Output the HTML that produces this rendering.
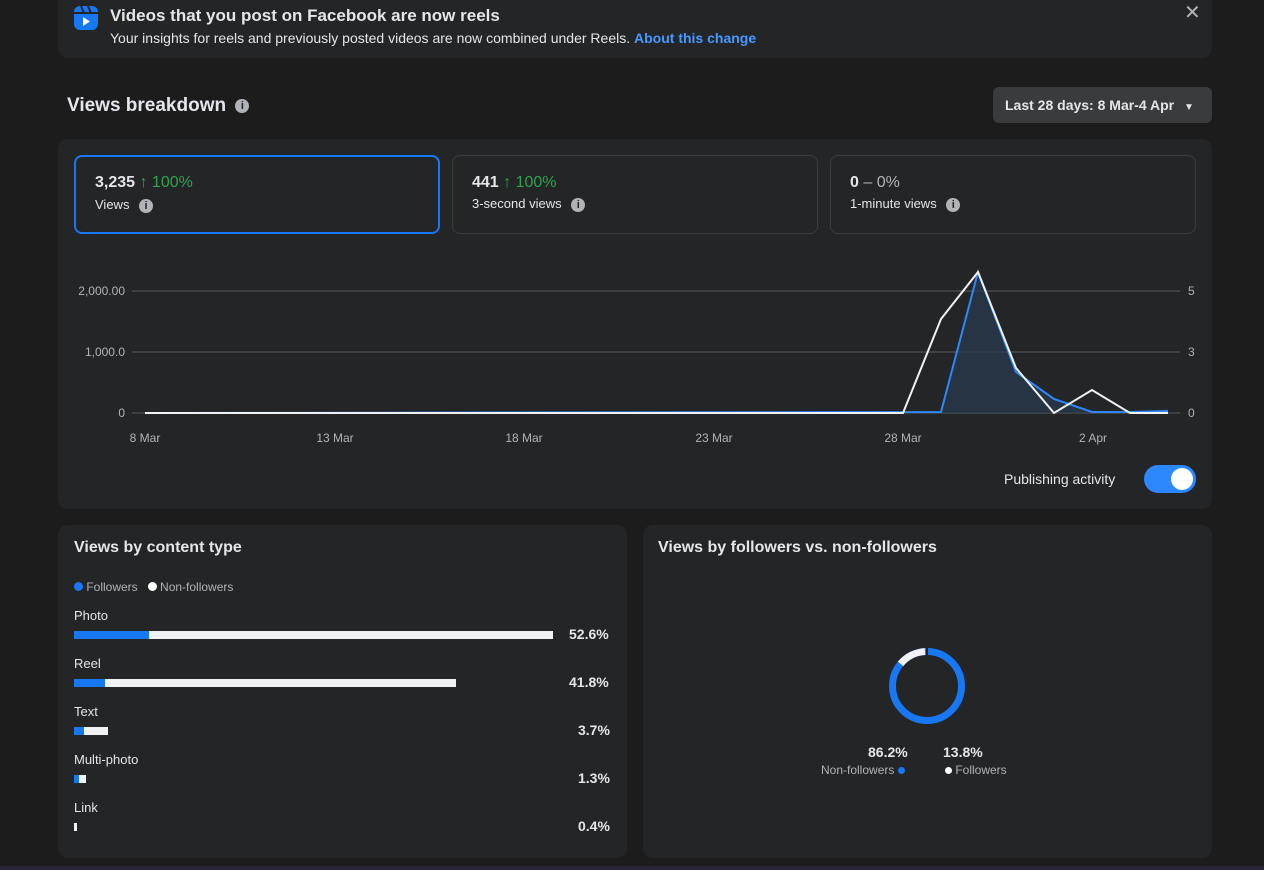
<!DOCTYPE html>
<html><head><style>
*{margin:0;padding:0;box-sizing:border-box}
body{width:1264px;height:870px;background:#1c1c1d;font-family:"Liberation Sans",sans-serif;color:#e4e6eb;position:relative;overflow:hidden}
.card{position:absolute;background:#242526;border-radius:10px}
.abs{position:absolute;white-space:nowrap}
.info{display:inline-block;width:14px;height:14px;border-radius:50%;background:#b0b3b8;color:#242526;font-size:11px;font-weight:bold;text-align:center;line-height:14px;vertical-align:middle}
.met{position:absolute;top:155px;height:79px;border:1px solid #3a3b3c;border-radius:8px}
.g{color:#31a24c}
.bar{position:absolute;height:8px}
</style></head><body>
<div class="card" style="left:58px;top:-10px;width:1154px;height:68px"></div>
<svg class="abs" style="left:73px;top:5px" width="26" height="26"><rect x="1" y="1" width="24" height="24" rx="6" fill="#1877f2"/><path d="M1 8h24" stroke="#242526" stroke-width="2"/><path d="M8 1l3 7M15 1l3 7" stroke="#242526" stroke-width="2"/><path d="M10 12v9l7-4.5z" fill="#fff"/></svg>
<div class="abs" style="left:110px;top:6px;font-size:17px;font-weight:bold">Videos that you post on Facebook are now reels</div>
<div class="abs" style="left:110px;top:30px;font-size:14px">Your insights for reels and previously posted videos are now combined under Reels. <span style="color:#4599ff;font-weight:bold">About this change</span></div>
<div class="abs" style="left:1184px;top:0px;font-size:20px;color:#b0b3b8">✕</div>

<div class="abs" style="left:67px;top:95px;font-size:19px;font-weight:bold">Views breakdown <span class="info" style="margin-left:4px">i</span></div>
<div class="abs" style="left:993px;top:87px;width:219px;height:36px;background:#3a3b3c;border-radius:6px;font-size:14px;font-weight:bold;line-height:36px;padding-left:12px">Last 28 days: 8 Mar-4 Apr <span style="font-size:10px;margin-left:6px">▼</span></div>

<div class="card" style="left:58px;top:139px;width:1154px;height:370px"></div>
<div class="met" style="left:74px;width:366px;border:2px solid #1877f2"></div>
<div class="met" style="left:452px;width:366px"></div>
<div class="met" style="left:830px;width:366px"></div>
<div class="abs" style="left:95px;top:174px;font-size:16px;font-weight:bold">3,235 <span class="g" style="font-weight:normal">↑ 100%</span></div>
<div class="abs" style="left:95px;top:197px;font-size:13px">Views <span class="info" style="margin-left:6px">i</span></div>
<div class="abs" style="left:472px;top:174px;font-size:16px;font-weight:bold">441 <span class="g" style="font-weight:normal">↑ 100%</span></div>
<div class="abs" style="left:472px;top:196px;font-size:13px">3-second views <span class="info" style="margin-left:6px">i</span></div>
<div class="abs" style="left:850px;top:174px;font-size:16px;font-weight:bold">0 <span style="font-weight:normal;color:#b0b3b8">– 0%</span></div>
<div class="abs" style="left:850px;top:196px;font-size:13px">1-minute views <span class="info" style="margin-left:6px">i</span></div>

<svg class="abs" style="left:0;top:0" width="1264" height="520" font-family="Liberation Sans" font-size="12" fill="#b0b3b8">
<g stroke="#5a5b5e" stroke-width="1"><line x1="132" y1="291" x2="1180" y2="291"/><line x1="132" y1="352" x2="1180" y2="352"/><line x1="132" y1="413" x2="1180" y2="413"/></g>
<text x="125" y="295" text-anchor="end">2,000.00</text><text x="125" y="356" text-anchor="end">1,000.0</text><text x="125" y="417" text-anchor="end">0</text>
<text x="1188" y="295">5</text><text x="1188" y="356">3</text><text x="1188" y="417">0</text>
<g text-anchor="middle"><text x="145" y="442">8 Mar</text><text x="335" y="442">13 Mar</text><text x="524" y="442">18 Mar</text><text x="714" y="442">23 Mar</text><text x="903" y="442">28 Mar</text><text x="1093" y="442">2 Apr</text></g>
<path d="M941 413L978 272L1016 372L1054 399L1092 412L1130 412L1168 411L1168 413Z" fill="#2a3a50" opacity="0.7"/>
<polyline points="145,413 941,412 978,272 1016,372 1054,399 1092,412 1130,412 1168,411" fill="none" stroke="#2d88ff" stroke-width="2"/>
<polyline points="145,413 903,413 941,319 978,272 1016,368 1054,413 1092,390 1130,413 1168,413" fill="none" stroke="#f0f2f5" stroke-width="2"/>
</svg>
<div class="abs" style="left:1004px;top:471px;font-size:14px">Publishing activity</div>
<div class="abs" style="left:1144px;top:465px;width:52px;height:28px;border-radius:14px;background:#2d88ff"><div style="position:absolute;right:3px;top:3px;width:22px;height:22px;border-radius:50%;background:#fff"></div></div>

<div class="card" style="left:58px;top:525px;width:569px;height:333px"></div>
<div class="abs" style="left:74px;top:539px;font-size:16px;font-weight:bold">Views by content type</div>
<div class="abs" style="left:74px;top:580px;font-size:12px;color:#b0b3b8"><span style="display:inline-block;width:9px;height:9px;border-radius:50%;background:#1877f2"></span> Followers &nbsp; <span style="display:inline-block;width:9px;height:9px;border-radius:50%;background:#fff"></span> Non-followers</div>
<div class="abs" style="left:74px;top:608px;font-size:13px">Photo</div>
<div class="bar" style="left:74px;top:631px;width:479px;background:#f0f2f5"></div><div class="bar" style="left:74px;top:631px;width:75px;background:#1877f2"></div>
<div class="abs" style="left:569px;top:626px;font-size:14px;font-weight:bold">52.6%</div>
<div class="abs" style="left:74px;top:656px;font-size:13px">Reel</div>
<div class="bar" style="left:74px;top:679px;width:382px;background:#f0f2f5"></div><div class="bar" style="left:74px;top:679px;width:31px;background:#1877f2"></div>
<div class="abs" style="left:569px;top:674px;font-size:14px;font-weight:bold">41.8%</div>
<div class="abs" style="left:74px;top:704px;font-size:13px">Text</div>
<div class="bar" style="left:74px;top:727px;width:34px;background:#f0f2f5"></div><div class="bar" style="left:74px;top:727px;width:10px;background:#1877f2"></div>
<div class="abs" style="left:578px;top:722px;font-size:14px;font-weight:bold">3.7%</div>
<div class="abs" style="left:74px;top:752px;font-size:13px">Multi-photo</div>
<div class="bar" style="left:74px;top:775px;width:12px;background:#f0f2f5"></div><div class="bar" style="left:74px;top:775px;width:5px;background:#1877f2"></div>
<div class="abs" style="left:578px;top:770px;font-size:14px;font-weight:bold">1.3%</div>
<div class="abs" style="left:74px;top:800px;font-size:13px">Link</div>
<div class="bar" style="left:74px;top:823px;width:3px;background:#f0f2f5"></div>
<div class="abs" style="left:578px;top:818px;font-size:14px;font-weight:bold">0.4%</div>

<div class="card" style="left:643px;top:525px;width:569px;height:333px"></div>
<div class="abs" style="left:658px;top:539px;font-size:16px;font-weight:bold">Views by followers vs. non-followers</div>
<svg class="abs" style="left:887px;top:646px" width="80" height="80">
<circle cx="40" cy="40" r="34.5" fill="none" stroke="#1877f2" stroke-width="7"/>
<circle cx="40" cy="40" r="34.5" fill="none" stroke="#f0f2f5" stroke-width="7" stroke-dasharray="28 300" transform="rotate(-140 40 40)"/>
<line x1="40" y1="2" x2="40" y2="10" stroke="#242526" stroke-width="2"/>
</svg>
<div class="abs" style="left:868px;top:744px;font-size:14px;font-weight:bold">86.2%</div>
<div class="abs" style="left:943px;top:744px;font-size:14px;font-weight:bold">13.8%</div>
<div class="abs" style="left:821px;top:763px;font-size:12px;color:#b0b3b8">Non-followers <span style="display:inline-block;width:7px;height:7px;border-radius:50%;background:#1877f2"></span></div>
<div class="abs" style="left:945px;top:763px;font-size:12px;color:#b0b3b8"><span style="display:inline-block;width:7px;height:7px;border-radius:50%;background:#fff"></span> Followers</div>
<div class="abs" style="left:0;top:866px;width:1264px;height:4px;background:#2a2438"></div>
</body></html>
